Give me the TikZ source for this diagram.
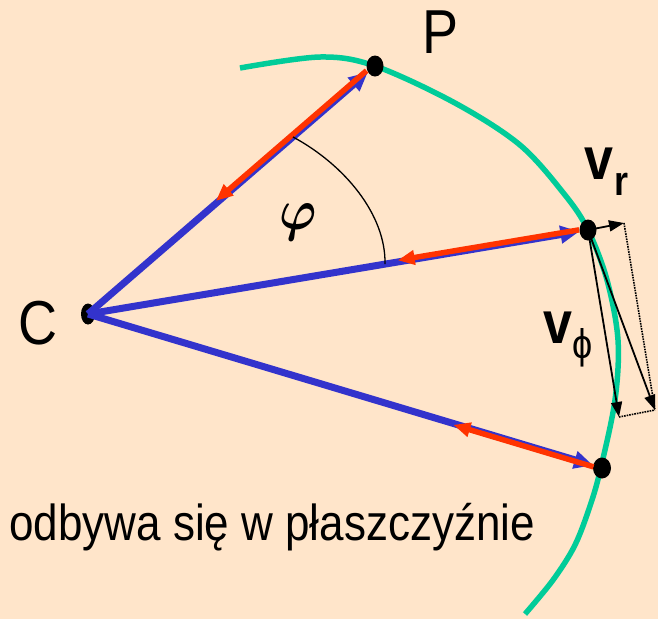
\RequirePackage{fix-cm}
\documentclass[tikz,border=0pt]{standalone}
\usepackage{fontspec}
\setmainfont{Liberation Sans}
\usetikzlibrary{arrows.meta,calc,shapes.geometric}
\definecolor{peach}{RGB}{255,229,202}
\definecolor{orbit}{RGB}{0,204,153}
\definecolor{radblue}{RGB}{51,51,204}
\definecolor{radred}{RGB}{255,51,0}
\newcommand{\tall}[1]{\scalebox{1}[1.15]{#1}}

\begin{document}
\begin{tikzpicture}[x=1pt,y=-1pt,
    pointdot/.style={ellipse, fill=black, inner sep=0pt, minimum width=17pt, minimum height=21pt},
    radline/.style={draw=radblue, line width=7pt, -{Triangle[length=19pt,width=17pt]}},
    redline/.style={draw=radred, line width=5.5pt, -{Triangle[length=17pt,width=14pt]}},
    vel/.style={draw=black, line width=1.8pt, -{Triangle[length=15pt,width=11pt]}},
    lbl/.style={inner sep=0pt, anchor=base}]
    \useasboundingbox (0,0) rectangle (658,619);
    \fill[peach] (0,0) rectangle (658,619);
    % orbit
    \draw[orbit, line width=5.5pt] plot[smooth, tension=0.55] coordinates {
        (240,68) (320,57) (375,66) (455,103) (520,145) (565,195) (588,230)
        (607,280) (618,340) (615,400) (601,467) (591,503) (575,545) (553,580) (525,614)};
    % points
    \node[pointdot, minimum width=14pt] (C) at (88,314) {};
    \node[pointdot] (P) at (375,66) {};
    \node[pointdot] (Q) at (588,230) {};
    \node[pointdot, minimum width=18pt] (R) at (602,468) {};
    % radius vectors
    \draw[radline] (C.center) -- (P);
    \draw[radline] (C.center) -- (Q);
    \draw[radline] (C.center) -- (R);
    \coordinate (pend) at ($(P.center)!0.55!(C.center)$);
    \coordinate (qend) at ($(Q.center)!0.38!(C.center)$);
    \coordinate (rend) at ($(R.center)!0.29!(C.center)$);
    \draw[redline, transform canvas={shift={(-1.3pt,1.5pt)}}] (P) -- (pend);
    \draw[redline, transform canvas={shift={(-0.3pt,1.6pt)}}] (Q) -- (qend);
    \draw[redline, transform canvas={shift={(0.4pt,-1.5pt)}}] (R) -- (rend);
    % angle
    \coordinate (arcA) at ($(C.center)!0.714!(P.center)$);
    \coordinate (arcB) at ($(C.center)!0.594!(Q.center)$);
    \draw[line width=1.3pt] (arcA) .. controls (345,165) and (386,215) .. (arcB);
    \node[inner sep=0pt, font=\fontsize{50}{50}\selectfont\boldmath] (angle) at (298,222) {\tall{$\varphi$}};
    % velocity components
    \coordinate (vrtip) at (624,223);
    \coordinate (vphitip) at (619,417);
    \coordinate (vsum) at ($(vrtip)+(vphitip)-(Q.center)$);
    \draw[vel] (Q.center) -- (vrtip);
    \draw[vel] (Q.center) -- (vphitip);
    \draw[vel] (Q.center) -- (vsum);
    \draw[densely dotted, line width=1.6pt] (vrtip) -- (vsum);
    \draw[densely dotted, line width=1.6pt] (vphitip) -- (vsum);
    % labels
    \node[lbl, font=\fontsize{54}{54}\selectfont] (Plbl) at (441,53) {\tall{P}};
    \node[lbl, font=\fontsize{54}{54}\selectfont] (Clbl) at (38,344) {\tall{C}};
    \node[lbl, font=\bfseries\fontsize{52}{52}\selectfont] (vr) at (599,179) {\tall{v}};
    \node[lbl, font=\bfseries\fontsize{36}{36}\selectfont] (vrsub) at (621,195) {\tall{r}};
    \node[lbl, font=\bfseries\fontsize{52}{52}\selectfont] (vphi) at (558,343) {\tall{v}};
    \node[inner sep=0pt, font=\fontsize{36}{36}\selectfont] (vphisub) at (583,348) {\tall{ϕ}};
    \node[lbl, anchor=base west, font=\fontsize{44}{44}\selectfont] (plane) at (9,540) {\tall{odbywa się w płaszczyźnie}};
\end{tikzpicture}
\end{document}
